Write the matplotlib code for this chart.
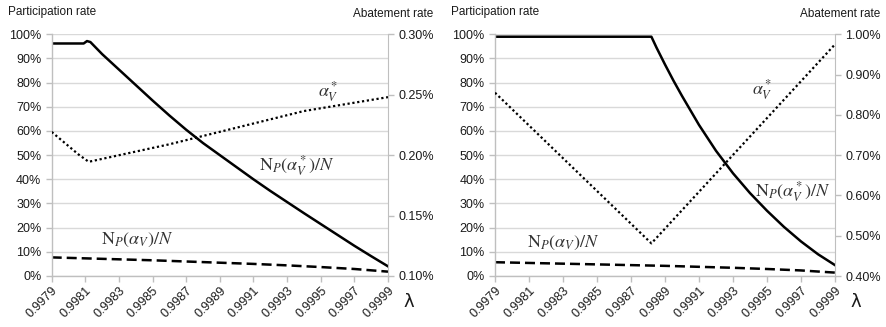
import matplotlib
matplotlib.use("Agg")
import matplotlib.pyplot as plt
from matplotlib.ticker import FuncFormatter, FixedLocator

# ---------------- data ----------------
x_ticks = [0.9979, 0.9981, 0.9983, 0.9985, 0.9987, 0.9989, 0.9991, 0.9993, 0.9995, 0.9997, 0.9999]
x_tick_labels = ["0.9979", "0.9981", "0.9983", "0.9985", "0.9987", "0.9989",
                 "0.9991", "0.9993", "0.9995", "0.9997", "0.9999"]
left_ticks = [0, 10, 20, 30, 40, 50, 60, 70, 80, 90, 100]

# Left panel
L_star_lam = [0.9979, 0.99809, 0.99811, 0.99813, 0.9982, 0.9983, 0.9984, 0.9985, 0.9986,
              0.9987, 0.9988, 0.9989, 0.9990, 0.9991, 0.9992, 0.9993, 0.9994, 0.9995,
              0.9996, 0.9997, 0.9998, 0.9999]
L_star_part = [96.2, 96.2, 97.2, 96.8, 91.8, 85.4, 79.0, 72.6, 66.4, 60.5, 55.0, 50.0,
               45.0, 40.0, 35.2, 30.6, 26.0, 21.5, 17.0, 12.5, 8.2, 4.0]
L_v_lam = [0.9979, 0.9981, 0.9983, 0.9985, 0.9987, 0.9989, 0.9991, 0.9993, 0.9995, 0.9997, 0.9999]
L_v_part = [7.7, 7.3, 6.9, 6.5, 6.0, 5.5, 5.0, 4.4, 3.7, 2.9, 1.8]
L_alpha_lam = [0.9979, 0.99806, 0.99812, 0.9986, 0.9994, 0.9999]
L_alpha = [0.2192, 0.2005, 0.1945, 0.2090, 0.2365, 0.2480]
L_right_ticks = [0.10, 0.15, 0.20, 0.25, 0.30]

# Right panel
R_star_lam = [0.9979, 0.99882, 0.99885, 0.9989, 0.99895, 0.9990, 0.9991, 0.9992, 0.9993,
              0.9994, 0.9995, 0.9996, 0.9997, 0.9998, 0.9999]
R_star_part = [99.0, 99.0, 94.5, 87.5, 80.8, 74.5, 62.5, 51.8, 42.5, 34.3, 27.0, 20.3,
               14.3, 9.0, 4.5]
R_v_lam = [0.9979, 0.9981, 0.9983, 0.9985, 0.9987, 0.9989, 0.9991, 0.9993, 0.9995, 0.9997, 0.9999]
R_v_part = [5.7, 5.4, 5.1, 4.8, 4.5, 4.2, 3.8, 3.4, 2.9, 2.3, 1.4]
R_alpha_lam = [0.9979, 0.99882, 0.9999]
R_alpha = [0.855, 0.481, 0.975]
R_right_ticks = [0.40, 0.50, 0.60, 0.70, 0.80, 0.90, 1.00]

# ---------------- style ----------------
GRID = "#d9d9d9"
AXC = "#bfbfbf"
TXT = "#1a1a1a"
plt.rcParams["font.family"] = ["Liberation Sans", "DejaVu Sans"]
plt.rcParams["mathtext.fontset"] = "stix"

fig = plt.figure(figsize=(8.87, 3.27), dpi=100)
W, H = 887.0, 327.0


def panel(x0, x1, star_lam, star_part, v_lam, v_part, a_lam, a_vals, rticks, rfmt,
          lab_a, lab_star, lab_v):
    y0, y1 = 276.0, 34.3
    ax = fig.add_axes([x0 / W, 1 - y0 / H, (x1 - x0) / W, (y0 - y1) / H])
    ax.set_xlim(x_ticks[0], x_ticks[-1])
    ax.set_ylim(0, 100)
    ax.yaxis.set_major_locator(FixedLocator(left_ticks))
    ax.yaxis.set_major_formatter(FuncFormatter(lambda v, p: f"{v:.0f}%"))
    ax.xaxis.set_major_locator(FixedLocator(x_ticks))
    ax.set_xticklabels(x_tick_labels, rotation=45, ha="right", va="top",
                       rotation_mode="anchor")
    ax.grid(axis="y", color=GRID, lw=1.0)
    ax.set_axisbelow(True)
    for s in ["top", "right"]:
        ax.spines[s].set_visible(False)
    for s in ["left", "bottom"]:
        ax.spines[s].set_color(AXC)
        ax.spines[s].set_linewidth(1.0)
    ax.tick_params(axis="both", colors=AXC, labelcolor=TXT, labelsize=9, length=4,
                   width=1.0)
    ax.tick_params(axis="x", labelsize=9, pad=2)

    ax.plot(star_lam, star_part, color="black", lw=1.8, solid_joinstyle="round")
    ax.plot(v_lam, v_part, color="black", lw=1.8, dashes=(4, 2))

    ax2 = ax.twinx()
    ax2.set_ylim(rticks[0], rticks[-1])
    ax2.yaxis.set_major_locator(FixedLocator(rticks))
    ax2.yaxis.set_major_formatter(FuncFormatter(rfmt))
    for s in ["top", "left", "bottom"]:
        ax2.spines[s].set_visible(False)
    ax2.spines["right"].set_color(AXC)
    ax2.tick_params(axis="y", colors=AXC, labelcolor=TXT, labelsize=9, length=4,
                    width=1.0)
    ax2.plot(a_lam, a_vals, color="black", lw=1.6, dashes=(1, 1.2))

    def fxt(px, py, s, **kw):
        fig.text(px / W, 1 - py / H, s, **kw)

    fxt(x0 - 44, 12, "Participation rate", fontsize=8.5, color=TXT, va="center", ha="left")
    fxt(x1 + 45, 14, "Abatement rate", fontsize=8.5, color=TXT, va="center", ha="right")
    fxt(x1 + 21, 302, "λ", fontsize=13, color=TXT, va="center", ha="center",
        family=["DejaVu Sans"])
    fxt(lab_a[0], lab_a[1], r"$\alpha_V^*$", fontsize=13, color="#333333",
        va="center", ha="center")
    fxt(lab_star[0], lab_star[1], r"$\mathrm{N}_P(\alpha_V^*)/N$", fontsize=13,
        color="#333333", va="center", ha="center")
    fxt(lab_v[0], lab_v[1], r"$\mathrm{N}_P(\alpha_V)/N$", fontsize=13,
        color="#333333", va="center", ha="center")
    return ax


panel(51.7, 388.0, L_star_lam, L_star_part, L_v_lam, L_v_part, L_alpha_lam, L_alpha,
      L_right_ticks, lambda v, p: f"{v:.2f}%", (328, 92), (297, 166), (137, 240))
panel(495.0, 835.0, R_star_lam, R_star_part, R_v_lam, R_v_part, R_alpha_lam, R_alpha,
      R_right_ticks, lambda v, p: f"{v:.2f}%", (762, 90), (793, 192), (563, 243))

fig.savefig("out.png", dpi=100)
